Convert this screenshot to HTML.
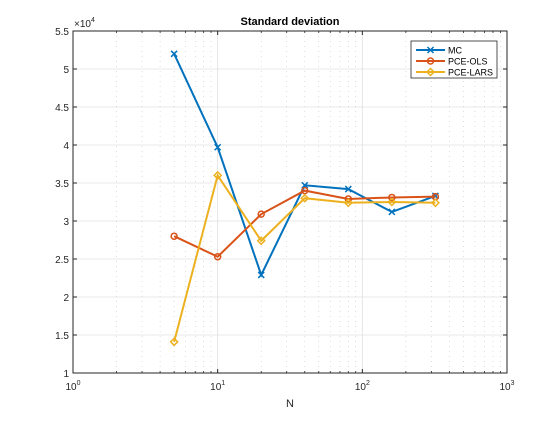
<!DOCTYPE html>
<html><head><meta charset="utf-8"><style>
html,body{margin:0;padding:0;background:#fff}
svg text{font-family:"Liberation Sans",sans-serif}
</style></head><body>
<svg id="chart" width="560" height="420" xmlns="http://www.w3.org/2000/svg"></svg>
<script>
const ns="http://www.w3.org/2000/svg";
const xTicks=[1,10,100,1000];
const yTicks=[1,1.5,2,2.5,3,3.5,4,4.5,5,5.5];
const nValues=[5,10,20,40,80,160,320];
const mcValues=[52000,39700,22900,34700,34200,31200,33300];
const olsValues=[28000,25300,30900,34000,32900,33100,33200];
const larsValues=[14100,36000,27400,33000,32400,32500,32400];
const L=73,R=507,T=31,B=373;
const X=v=>L+(Math.log10(v)-0)/3*(R-L);
const Y=v=>B-(v-10000)/45000*(B-T);
const svg=document.getElementById('chart');
function mk(tag,attrs,parent){const e=document.createElementNS(ns,tag);for(const k in attrs)e.setAttribute(k,attrs[k]);(parent||svg).appendChild(e);return e;}
const bg=mk('rect',{x:L,y:T,width:R-L,height:B-T,fill:'#fff'});


for(let d=0;d<3;d++)for(let m=2;m<=9;m++){const x=X(m*Math.pow(10,d));
const g=mk('line',{x1:x,x2:x,y1:T,y2:B,stroke:'#c8c8c8','stroke-width':0.6,'stroke-dasharray':'1,4'});


mk('line',{x1:x,x2:x,y1:B,y2:B-2,stroke:'#262626','stroke-width':0.8});
mk('line',{x1:x,x2:x,y1:T,y2:T+2,stroke:'#262626','stroke-width':0.8});}
xTicks.forEach(t=>{const x=X(t);
const g=mk('line',{x1:x,x2:x,y1:T,y2:B,stroke:'#e0e0e0','stroke-width':0.8});


mk('line',{x1:x,x2:x,y1:B,y2:B-4,stroke:'#262626'});mk('line',{x1:x,x2:x,y1:T,y2:T+4,stroke:'#262626'});});
yTicks.forEach(t=>{const y=Y(t*10000);
const g=mk('line',{x1:L,x2:R,y1:y,y2:y,stroke:'#e0e0e0','stroke-width':0.8});


const tk=mk('text',{x:L-4,y:y+4,'font-size':10,'text-anchor':'end',fill:'#262626'});tk.textContent=String(t);


mk('line',{x1:L,x2:L+4,y1:y,y2:y,stroke:'#262626'});mk('line',{x1:R,x2:R-4,y1:y,y2:y,stroke:'#262626'});});
xTicks.forEach((t,i)=>{const x=X(t);
const tk=mk('text',{x:x,y:B+17,'font-size':10,'text-anchor':'middle',fill:'#262626'});
tk.textContent='10';const s=mk('tspan',{dy:-5,'font-size':7},tk);s.textContent=String(i);

});
const box=mk('rect',{x:L,y:T,width:R-L,height:B-T,fill:'none',stroke:'#262626','stroke-width':1});


const title=mk('text',{x:(L+R)/2,y:T-6,'font-size':11,'font-weight':'bold','text-anchor':'middle',fill:'#000'});title.textContent='Standard deviation';


const xl=mk('text',{x:(L+R)/2,y:407,'font-size':11,'text-anchor':'middle',fill:'#262626'});xl.textContent='N';


const ex=mk('text',{x:L+1,y:T-4,'font-size':10,fill:'#262626'});ex.textContent='×10';const es=mk('tspan',{dy:-5,'font-size':7},ex);es.textContent='4';


function marker(kind,x,y,c,parent){
 if(kind==='x'){mk('path',{d:`M${x-3},${y-3}L${x+3},${y+3}M${x-3},${y+3}L${x+3},${y-3}`,stroke:c,'stroke-width':1.5,fill:'none'},parent);}
 else if(kind==='o'){mk('circle',{cx:x,cy:y,r:3,stroke:c,'stroke-width':1.5,fill:'none'},parent);}
 else {mk('path',{d:`M${x},${y-3.5}L${x+3.5},${y}L${x},${y+3.5}L${x-3.5},${y}Z`,stroke:c,'stroke-width':1.5,fill:'none'},parent);}
}
const series=[[mcValues,'#0072bd','x','mc'],[olsValues,'#d95319','o','pce-ols'],[larsValues,'#edb120','d','pce-lars']];
series.forEach(([vals,c,k,n])=>{
 const g=mk('g',{});
 
 
 mk('polyline',{points:vals.map((v,i)=>X(nValues[i])+','+Y(v)).join(' '),fill:'none',stroke:c,'stroke-width':2},g);
 vals.forEach((v,i)=>marker(k,X(nValues[i]),Y(v),c,g));
});
const lg=mk('g',{});


mk('rect',{x:411,y:41,width:86,height:37,fill:'#fff',stroke:'#262626','stroke-width':0.8},lg);
const names=['MC','PCE-OLS','PCE-LARS'];
series.forEach(([v,c,k],i)=>{const y=50+i*11;
 const e=mk('g',{},lg);
 
 
 mk('line',{x1:416,x2:445,y1:y,y2:y,stroke:c,'stroke-width':2},e);marker(k,430.5,y,c,e);
 const t=mk('text',{x:448,y:y+3.5,'font-size':9,fill:'#000'},e);t.textContent=names[i];});
</script>
</body></html>
